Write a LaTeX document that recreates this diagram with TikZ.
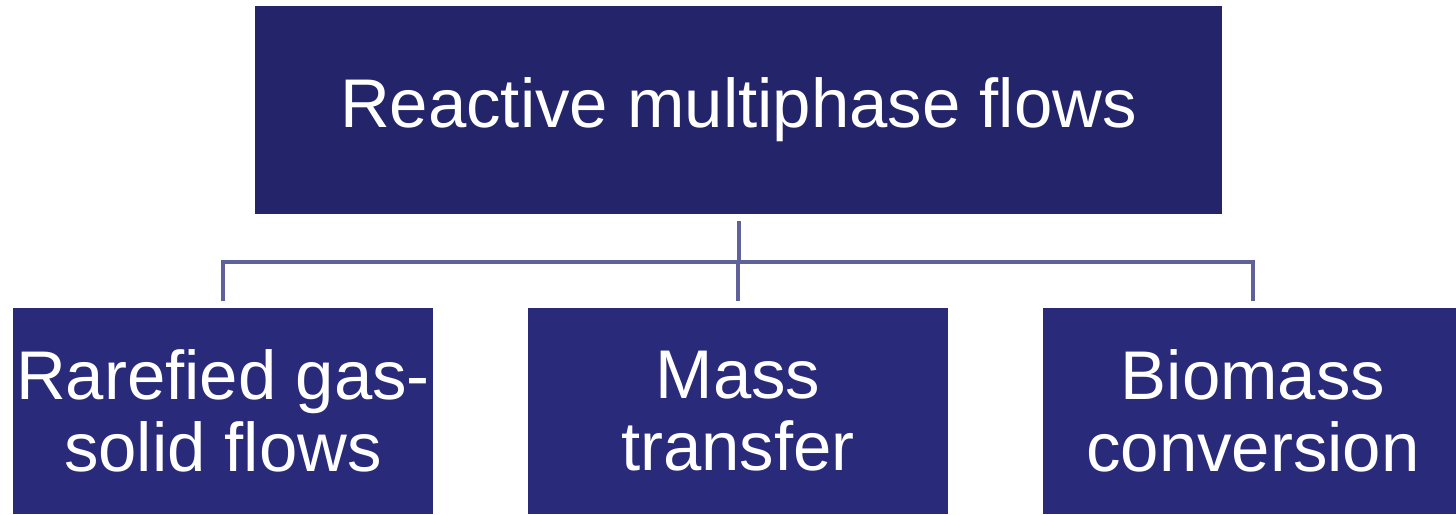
\documentclass[tikz,border=0pt]{standalone}
\usepackage{fontspec}
\setmainfont{Liberation Sans}
\definecolor{topblue}{RGB}{36,36,107}
\definecolor{boxblue}{RGB}{41,42,122}
\definecolor{connblue}{RGB}{96,96,154}
\begin{document}
\begin{tikzpicture}[x=0.01cm,y=-0.01cm,
  topbox/.style={rectangle,fill=topblue,draw=none,text=white,inner sep=0pt,
    minimum width=9.67cm,minimum height=2.07cm,font=\fontsize{19.6pt}{20.5pt}\selectfont},
  subbox/.style={rectangle,fill=boxblue,draw=none,text=white,inner sep=0pt,
    minimum width=4.20cm,minimum height=2.06cm,align=center,font=\fontsize{19.6pt}{20.5pt}\selectfont},
  conn/.style={draw=connblue,line width=0.04cm}]
\useasboundingbox[fill=white] (0,0) rectangle (1456,514);
\begin{scope}
\clip (0,0) rectangle (1456,514);
\node[topbox] (top) at (738.5,110) {Reactive multiphase flows};
\node[subbox] (left) at (223,411) {Rarefied gas-\\solid flows};
\node[subbox] (mid) at (738,411) {Mass\\transfer};
\node[subbox] (right) at (1253,411) {Biomass\\conversion};
\coordinate (bus) at (738,262);
\draw[conn,shorten <=0.07cm] (top.south) -- (top.south |- bus);
\draw[conn,shorten <=0.06cm,shorten >=0.06cm] (left.north) -- (left.north |- bus) -| (right.north);
\draw[conn,shorten >=0.06cm] (mid.north |- bus) -- (mid.north);
\end{scope}
\end{tikzpicture}
\end{document}
